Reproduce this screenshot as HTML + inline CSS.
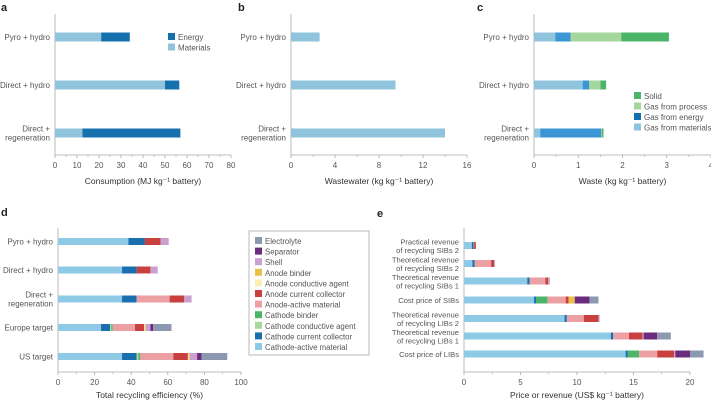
<!DOCTYPE html>
<html><head><meta charset="utf-8"><style>
html,body{margin:0;padding:0;background:#fff;}
svg{display:block;font-family:"Liberation Sans","Noto Sans CJK SC",sans-serif;}
text{fill:#555;font-size:8px;}
</style></head><body>
<svg id="s" width="711" height="402" viewBox="0 0 711 402"></svg>
<script>
// ---- data ----
const catA = ["Pyro + hydro","Direct + hydro","Direct +|regeneration"];
const aMaterials = [21, 50, 12.5];
const aEnergy = [13, 6.5, 44.5];
const bWastewater = [2.6, 9.5, 14];
const cMaterials = [0.48, 1.1, 0.14];
const cEnergy = [0.35, 0.15, 1.38];
const cProcess = [1.14, 0.25, 0.01];
const cSolid = [1.08, 0.13, 0.04];
const compNames = ["Cathode-active material","Cathode current collector","Cathode conductive agent","Cathode binder","Anode-active material","Anode current collector","Anode conductive agent","Anode binder","Shell","Separator","Electrolyte"];
const catD = ["Pyro + hydro","Direct + hydro","Direct +|regeneration","Europe target","US target"];
const dPyro = [38.5,9,0,0,0,8.5,0,0,4.5,0,0];
const dDirectHydro = [35,8,0,0,0,7.5,0,0,4,0,0];
const dDirectRegen = [35,8,0,0,18,8,0,0,4,0,0];
const dEurope = [23.5,5,0.6,0.8,12.2,5,0.5,0.4,2.5,1.5,10];
const dUS = [35,8,1,1,18,8,0.5,0.5,4,2.5,14];
const catE = ["Practical revenue|of recycling SIBs 2","Theoretical revenue|of recycling SIBs 2","Theoretical revenue|of recycling SIBs 1","Cost price of SIBs","Theoretical revenue|of recycling LIBs 2","Theoretical revenue|of recycling LIBs 1","Cost price of LIBs"];
const ePracSIB2 = [0.7,0.15,0,0,0.05,0.15,0,0,0,0,0];
const eTheoSIB2 = [0.75,0.2,0,0,1.45,0.25,0,0,0.1,0,0];
const eTheoSIB1 = [5.6,0.2,0,0,1.4,0.25,0,0,0.15,0,0];
const eCostSIB = [6.2,0.2,0,1.0,1.6,0.25,0,0.55,0,1.3,0.8];
const eTheoLIB2 = [8.9,0.2,0,0,1.5,1.3,0,0,0.1,0,0];
const eTheoLIB1 = [13,0.2,0,0,1.4,1.2,0,0,0.1,1.2,1.2];
const eCostLIB = [14.3,0.2,0,1.0,1.6,1.5,0,0,0.1,1.3,1.2];
const ticksA=[0,10,20,30,40,50,60,70,80], ticksB=[0,4,8,12,16], ticksC=[0,1,2,3,4], ticksD=[0,20,40,60,80,100], ticksE=[0,5,10,15,20];
const compColors=["#8ec9e6","#1a6fae","#a8d8a0","#4db56a","#eda0a3","#c8413f","#fbeeb0","#e8c14a","#c9a0cf","#6b2c7e","#8c97b0"];

const S=document.getElementById('s'), NS="http://www.w3.org/2000/svg";
function mk(tag,attrs,parent){const e=document.createElementNS(NS,tag);for(const k in attrs)e.setAttribute(k,attrs[k]);(parent||S).appendChild(e);return e;}
function txt(x,y,str,anchor,size,weight,parent){const t=mk('text',{x:x,y:y,'text-anchor':anchor||'start'},parent);if(size)t.style.fontSize=size+'px';if(weight)t.style.fontWeight=weight;t.textContent=str;return t;}

function panel(o){
  const g=mk('g',{});
  
  
  const sx=v=>o.x0+(v-o.ticks[0])/(o.ticks[o.ticks.length-1]-o.ticks[0])*(o.x1-o.x0);
  const pl=txt(o.lx,o.ly,o.letter,'start',11,'bold',g);pl.style.fill='#222';
  
  mk('line',{x1:o.x0,y1:o.yt,x2:o.x0,y2:o.yb,stroke:'#aaa','stroke-width':0.8},g);
  mk('line',{x1:o.x0,y1:o.yb,x2:o.x1,y2:o.yb,stroke:'#aaa','stroke-width':0.8},g);
  const n=o.ticks.length;
  for(let i=0;i<n;i++){const v=o.ticks[i];
    mk('line',{x1:sx(v),y1:o.yb,x2:sx(v),y2:o.yb+3,stroke:'#aaa','stroke-width':0.8},g);
    if(i<n-1){const m=(v+o.ticks[i+1])/2;mk('line',{x1:sx(m),y1:o.yb,x2:sx(m),y2:o.yb+2,stroke:'#aaa','stroke-width':0.6},g);}
    const t=txt(sx(v),o.yb+13,String(v),'middle',8,null,g);
    }
  const at=txt((o.x0+o.x1)/2,o.yb+o.tOff,o.title,'middle',8.5,null,g);
  at.style.fill='#333';
  
  o.cats.forEach((c,i)=>{
    const yc=o.yc[i];const lines=c.split('|');
    lines.forEach((l,j)=>{const t=txt(o.x0-5,yc+3+(j-(lines.length-1)/2)*(o.lh||9),l,'end',o.fs||8,null,g);
      });
    let acc=0;
    o.series.forEach((s,k)=>{const v=s.vals[i];if(v>0){
      const r=mk('rect',{x:sx(acc),y:yc-o.h/2,width:Math.max(0,sx(acc+v)-sx(acc)),height:o.h,fill:s.color},g);
      }
      acc+=v;});
  });
  return g;
}
panel({name:'panel-a',letter:'a',lx:1,ly:11,x0:55,x1:231,yt:14,yb:155,tOff:29,ticks:ticksA,title:'Consumption (MJ kg⁻¹ battery)',cats:catA,yc:[37,85,133],h:9,
  series:[{vals:aMaterials,color:'#8fc4dc'},{vals:aEnergy,color:'#1571ad'}]});
panel({name:'panel-b',letter:'b',lx:238,ly:11,x0:291,x1:467,yt:14,yb:155,tOff:29,ticks:ticksB,title:'Wastewater (kg kg⁻¹ battery)',cats:catA,yc:[37,85,133],h:9,
  series:[{vals:bWastewater,color:'#8fc4dc'}]});
panel({name:'panel-c',letter:'c',lx:477,ly:11,x0:534,x1:711,yt:14,yb:155,tOff:29,ticks:ticksC,title:'Waste (kg kg⁻¹ battery)',cats:catA,yc:[37,85,133],h:9,
  series:[{vals:cMaterials,color:'#8fc4dc'},{vals:cEnergy,color:'#3a97d3'},{vals:cProcess,color:'#a5d69c'},{vals:cSolid,color:'#4db56a'}]});
const dSeries=[dPyro,dDirectHydro,dDirectRegen,dEurope,dUS];
panel({name:'panel-d',letter:'d',lx:1,ly:216,x0:58,x1:241,yt:228,yb:372,tOff:26,ticks:ticksD,title:'Total recycling efficiency  (%)',cats:catD,yc:[241.5,270,299,327.5,356.5],h:7,
  series:compNames.map((n,k)=>({vals:dSeries.map(r=>r[k]),color:compColors[k]}))});
const eSeries=[ePracSIB2,eTheoSIB2,eTheoSIB1,eCostSIB,eTheoLIB2,eTheoLIB1,eCostLIB];
panel({name:'panel-e',letter:'e',lx:377,ly:217,x0:464,x1:690,yt:228,yb:372,tOff:26,ticks:ticksE,title:'Price or revenue (US$ kg⁻¹ battery)',cats:catE,yc:[245.5,263.5,281,300,318.5,336,354],h:7,fs:7.6,lh:8.5,
  series:compNames.map((n,k)=>({vals:eSeries.map(r=>r[k]),color:compColors[k]}))});

function legend(name,x,y,step,items,fs){
  const g=mk('g',{});
  
  
  items.forEach((it,i)=>{const yy=y+i*step;
    const r=mk('rect',{x:x,y:yy-4,width:7,height:7,fill:it[1]},g);
    
    const t=txt(x+10,yy+3,it[0],'start',fs||8,null,g);
    });
  return g;
}
legend('legend-a',168,37,10.5,[["Energy","#1571ad"],["Materials","#8fc4dc"]]);
legend('legend-c',634,96,10.5,[["Solid","#4db56a"],["Gas from process","#a5d69c"],["Gas from energy","#1571ad"],["Gas from materials","#8fc4dc"]]);
const lb=mk('rect',{x:249,y:231,width:120,height:124,fill:'none',stroke:'#aaa','stroke-width':0.8});

const rev=compNames.map((n,k)=>[n,compColors[k]]).reverse();
legend('legend-d',255,241,10.6,rev,7.8);
</script>
</body></html>
